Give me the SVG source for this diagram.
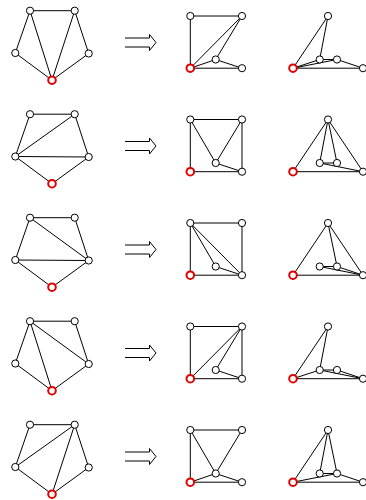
<svg xmlns="http://www.w3.org/2000/svg" width="366" height="500" viewBox="0 0 366 500">
<style>
.e line{stroke:#000;stroke-width:1;fill:none}
.a{stroke:#000;stroke-width:1;fill:none}
.n{fill:#fff;stroke:#000;stroke-width:1}
.r{fill:#fff;stroke:#e00000;stroke-width:2}
</style>
<rect width="366" height="500" fill="#fff"/>
<g id="connectors" class="e">
<!-- row 1 -->
<line x1="30" y1="10.7" x2="74.7" y2="10.7"/><line x1="30" y1="10.7" x2="15.3" y2="53"/><line x1="30" y1="10.7" x2="52" y2="80.2"/><line x1="74.7" y1="10.7" x2="52" y2="80.2"/><line x1="74.7" y1="10.7" x2="88.7" y2="53.5"/><line x1="15.3" y1="53" x2="52" y2="80.2"/><line x1="88.7" y1="53.5" x2="52" y2="80.2"/>
<line x1="190.3" y1="16" x2="242" y2="16"/><line x1="190.3" y1="16" x2="190.3" y2="68.2"/><line x1="190.3" y1="68.2" x2="242" y2="16"/><line x1="190.3" y1="68.2" x2="215.7" y2="59.5"/><line x1="215.7" y1="59.5" x2="242" y2="16"/><line x1="215.7" y1="59.5" x2="242" y2="68.2"/><line x1="190.3" y1="68.2" x2="242" y2="68.2"/>
<line x1="293" y1="68.2" x2="328" y2="16"/><line x1="293" y1="68.2" x2="319.7" y2="59.5"/><line x1="293" y1="68.2" x2="337" y2="59.5"/><line x1="293" y1="68.2" x2="363" y2="68.2"/><line x1="328" y1="16" x2="319.7" y2="59.5"/><line x1="319.7" y1="59.5" x2="337" y2="59.5"/><line x1="337" y1="59.5" x2="363" y2="68.2"/>
<!-- row 2 -->
<line x1="30" y1="114.2" x2="74.7" y2="114.2"/><line x1="30" y1="114.2" x2="15.3" y2="156.5"/><line x1="15.3" y1="156.5" x2="74.7" y2="114.2"/><line x1="15.3" y1="156.5" x2="88.7" y2="157"/><line x1="74.7" y1="114.2" x2="88.7" y2="157"/><line x1="15.3" y1="156.5" x2="52" y2="183.7"/><line x1="88.7" y1="157" x2="52" y2="183.7"/>
<line x1="190.3" y1="119.5" x2="242" y2="119.5"/><line x1="190.3" y1="119.5" x2="190.3" y2="171.7"/><line x1="190.3" y1="119.5" x2="215.7" y2="163"/><line x1="242" y1="119.5" x2="215.7" y2="163"/><line x1="242" y1="119.5" x2="242" y2="171.7"/><line x1="215.7" y1="163" x2="242" y2="171.7"/><line x1="190.3" y1="171.7" x2="242" y2="171.7"/>
<line x1="293" y1="171.7" x2="328" y2="119.5"/><line x1="293" y1="171.7" x2="363" y2="171.7"/><line x1="328" y1="119.5" x2="319.7" y2="163"/><line x1="328" y1="119.5" x2="337" y2="163"/><line x1="328" y1="119.5" x2="363" y2="171.7"/><line x1="319.7" y1="163" x2="337" y2="163"/><line x1="319.7" y1="163" x2="363" y2="171.7"/>
<!-- row 3 -->
<line x1="30" y1="217.7" x2="74.7" y2="217.7"/><line x1="30" y1="217.7" x2="15.3" y2="260"/><line x1="30" y1="217.7" x2="88.7" y2="260.5"/><line x1="15.3" y1="260" x2="88.7" y2="260.5"/><line x1="74.7" y1="217.7" x2="88.7" y2="260.5"/><line x1="15.3" y1="260" x2="52" y2="287.2"/><line x1="88.7" y1="260.5" x2="52" y2="287.2"/>
<line x1="190.3" y1="223" x2="242" y2="223"/><line x1="190.3" y1="223" x2="190.3" y2="275.2"/><line x1="190.3" y1="223" x2="215.7" y2="266.5"/><line x1="190.3" y1="223" x2="242" y2="275.2"/><line x1="242" y1="223" x2="242" y2="275.2"/><line x1="215.7" y1="266.5" x2="242" y2="275.2"/><line x1="190.3" y1="275.2" x2="242" y2="275.2"/>
<line x1="293" y1="275.2" x2="328" y2="223"/><line x1="293" y1="275.2" x2="363" y2="275.2"/><line x1="328" y1="223" x2="337" y2="266.5"/><line x1="328" y1="223" x2="363" y2="275.2"/><line x1="319.7" y1="266.5" x2="337" y2="266.5"/><line x1="319.7" y1="266.5" x2="363" y2="275.2"/><line x1="337" y1="266.5" x2="363" y2="275.2"/>
<!-- row 4 -->
<line x1="30" y1="321.2" x2="74.7" y2="321.2"/><line x1="30" y1="321.2" x2="15.3" y2="363.5"/><line x1="30" y1="321.2" x2="52" y2="390.7"/><line x1="30" y1="321.2" x2="88.7" y2="364"/><line x1="74.7" y1="321.2" x2="88.7" y2="364"/><line x1="15.3" y1="363.5" x2="52" y2="390.7"/><line x1="88.7" y1="364" x2="52" y2="390.7"/>
<line x1="190.3" y1="326.5" x2="242" y2="326.5"/><line x1="190.3" y1="326.5" x2="190.3" y2="378.7"/><line x1="190.3" y1="378.7" x2="242" y2="326.5"/><line x1="242" y1="326.5" x2="215.7" y2="370"/><line x1="242" y1="326.5" x2="242" y2="378.7"/><line x1="215.7" y1="370" x2="242" y2="378.7"/><line x1="190.3" y1="378.7" x2="242" y2="378.7"/>
<line x1="293" y1="378.7" x2="328" y2="326.5"/><line x1="328" y1="326.5" x2="319.7" y2="370"/><line x1="293" y1="378.7" x2="319.7" y2="370"/><line x1="319.7" y1="370" x2="337" y2="370"/><line x1="319.7" y1="370" x2="363" y2="378.7"/><line x1="337" y1="370" x2="363" y2="378.7"/><line x1="293" y1="378.7" x2="363" y2="378.7"/>
<!-- row 5 -->
<line x1="30" y1="424.7" x2="74.7" y2="424.7"/><line x1="30" y1="424.7" x2="15.3" y2="467"/><line x1="15.3" y1="467" x2="74.7" y2="424.7"/><line x1="74.7" y1="424.7" x2="52" y2="494.2"/><line x1="74.7" y1="424.7" x2="88.7" y2="467.5"/><line x1="15.3" y1="467" x2="52" y2="494.2"/><line x1="88.7" y1="467.5" x2="52" y2="494.2"/>
<line x1="190.3" y1="430" x2="242" y2="430"/><line x1="190.3" y1="430" x2="190.3" y2="482.2"/><line x1="190.3" y1="430" x2="215.7" y2="473.5"/><line x1="242" y1="430" x2="215.7" y2="473.5"/><line x1="190.3" y1="482.2" x2="215.7" y2="473.5"/><line x1="215.7" y1="473.5" x2="242" y2="482.2"/><line x1="190.3" y1="482.2" x2="242" y2="482.2"/>
<line x1="293" y1="482.2" x2="328" y2="430"/><line x1="293" y1="482.2" x2="337" y2="473.5"/><line x1="293" y1="482.2" x2="363" y2="482.2"/><line x1="328" y1="430" x2="319.7" y2="473.5"/><line x1="328" y1="430" x2="337" y2="473.5"/><line x1="319.7" y1="473.5" x2="337" y2="473.5"/><line x1="337" y1="473.5" x2="363" y2="482.2"/>
</g>
<g id="arrows">
<path class="a" d="M125,38 H149.5 V34.5 L156,42.5 L149.5,50.5 V47 H125"/>
<path class="a" d="M125,141.5 H149.5 V138 L156,146 L149.5,154 V150.5 H125"/>
<path class="a" d="M125,245 H149.5 V241.5 L156,249.5 L149.5,257.5 V254 H125"/>
<path class="a" d="M125,348.5 H149.5 V345 L156,353 L149.5,361 V357.5 H125"/>
<path class="a" d="M125,452 H149.5 V448.5 L156,456.5 L149.5,464.5 V461 H125"/>
</g>
<!-- row 1 nodes -->
<g id="r1p-tl"><circle class="n" cx="30" cy="10.7" r="3.6"/></g>
<g id="r1p-tr"><circle class="n" cx="74.7" cy="10.7" r="3.6"/></g>
<g id="r1p-l"><circle class="n" cx="15.3" cy="53" r="3.6"/></g>
<g id="r1p-r"><circle class="n" cx="88.7" cy="53.5" r="3.6"/></g>
<g id="r1p-b"><circle class="r" cx="52" cy="80.2" r="3.8"/></g>
<g id="r1s-tl"><circle class="n" cx="190.3" cy="16" r="3.6"/></g>
<g id="r1s-tr"><circle class="n" cx="242" cy="16" r="3.6"/></g>
<g id="r1s-bl"><circle class="r" cx="190.3" cy="68.2" r="3.8"/></g>
<g id="r1s-br"><circle class="n" cx="242" cy="68.2" r="3.6"/></g>
<g id="r1s-in"><circle class="n" cx="215.7" cy="59.5" r="3.6"/></g>
<g id="r1t-a"><circle class="n" cx="328" cy="16" r="3.6"/></g>
<g id="r1t-rd"><circle class="r" cx="293" cy="68.2" r="3.8"/></g>
<g id="r1t-i1"><circle class="n" cx="319.7" cy="59.5" r="3.6"/></g>
<g id="r1t-i2"><circle class="n" cx="337" cy="59.5" r="3.6"/></g>
<g id="r1t-rt"><circle class="n" cx="363" cy="68.2" r="3.6"/></g>
<!-- row 2 nodes -->
<g id="r2p-tl"><circle class="n" cx="30" cy="114.2" r="3.6"/></g>
<g id="r2p-tr"><circle class="n" cx="74.7" cy="114.2" r="3.6"/></g>
<g id="r2p-l"><circle class="n" cx="15.3" cy="156.5" r="3.6"/></g>
<g id="r2p-r"><circle class="n" cx="88.7" cy="157" r="3.6"/></g>
<g id="r2p-b"><circle class="r" cx="52" cy="183.7" r="3.8"/></g>
<g id="r2s-tl"><circle class="n" cx="190.3" cy="119.5" r="3.6"/></g>
<g id="r2s-tr"><circle class="n" cx="242" cy="119.5" r="3.6"/></g>
<g id="r2s-bl"><circle class="r" cx="190.3" cy="171.7" r="3.8"/></g>
<g id="r2s-br"><circle class="n" cx="242" cy="171.7" r="3.6"/></g>
<g id="r2s-in"><circle class="n" cx="215.7" cy="163" r="3.6"/></g>
<g id="r2t-a"><circle class="n" cx="328" cy="119.5" r="3.6"/></g>
<g id="r2t-rd"><circle class="r" cx="293" cy="171.7" r="3.8"/></g>
<g id="r2t-i1"><circle class="n" cx="319.7" cy="163" r="3.6"/></g>
<g id="r2t-i2"><circle class="n" cx="337" cy="163" r="3.6"/></g>
<g id="r2t-rt"><circle class="n" cx="363" cy="171.7" r="3.6"/></g>
<!-- row 3 nodes -->
<g id="r3p-tl"><circle class="n" cx="30" cy="217.7" r="3.6"/></g>
<g id="r3p-tr"><circle class="n" cx="74.7" cy="217.7" r="3.6"/></g>
<g id="r3p-l"><circle class="n" cx="15.3" cy="260" r="3.6"/></g>
<g id="r3p-r"><circle class="n" cx="88.7" cy="260.5" r="3.6"/></g>
<g id="r3p-b"><circle class="r" cx="52" cy="287.2" r="3.8"/></g>
<g id="r3s-tl"><circle class="n" cx="190.3" cy="223" r="3.6"/></g>
<g id="r3s-tr"><circle class="n" cx="242" cy="223" r="3.6"/></g>
<g id="r3s-bl"><circle class="r" cx="190.3" cy="275.2" r="3.8"/></g>
<g id="r3s-br"><circle class="n" cx="242" cy="275.2" r="3.6"/></g>
<g id="r3s-in"><circle class="n" cx="215.7" cy="266.5" r="3.6"/></g>
<g id="r3t-a"><circle class="n" cx="328" cy="223" r="3.6"/></g>
<g id="r3t-rd"><circle class="r" cx="293" cy="275.2" r="3.8"/></g>
<g id="r3t-i1"><circle class="n" cx="319.7" cy="266.5" r="3.6"/></g>
<g id="r3t-i2"><circle class="n" cx="337" cy="266.5" r="3.6"/></g>
<g id="r3t-rt"><circle class="n" cx="363" cy="275.2" r="3.6"/></g>
<!-- row 4 nodes -->
<g id="r4p-tl"><circle class="n" cx="30" cy="321.2" r="3.6"/></g>
<g id="r4p-tr"><circle class="n" cx="74.7" cy="321.2" r="3.6"/></g>
<g id="r4p-l"><circle class="n" cx="15.3" cy="363.5" r="3.6"/></g>
<g id="r4p-r"><circle class="n" cx="88.7" cy="364" r="3.6"/></g>
<g id="r4p-b"><circle class="r" cx="52" cy="390.7" r="3.8"/></g>
<g id="r4s-tl"><circle class="n" cx="190.3" cy="326.5" r="3.6"/></g>
<g id="r4s-tr"><circle class="n" cx="242" cy="326.5" r="3.6"/></g>
<g id="r4s-bl"><circle class="r" cx="190.3" cy="378.7" r="3.8"/></g>
<g id="r4s-br"><circle class="n" cx="242" cy="378.7" r="3.6"/></g>
<g id="r4s-in"><circle class="n" cx="215.7" cy="370" r="3.6"/></g>
<g id="r4t-a"><circle class="n" cx="328" cy="326.5" r="3.6"/></g>
<g id="r4t-rd"><circle class="r" cx="293" cy="378.7" r="3.8"/></g>
<g id="r4t-i1"><circle class="n" cx="319.7" cy="370" r="3.6"/></g>
<g id="r4t-i2"><circle class="n" cx="337" cy="370" r="3.6"/></g>
<g id="r4t-rt"><circle class="n" cx="363" cy="378.7" r="3.6"/></g>
<!-- row 5 nodes -->
<g id="r5p-tl"><circle class="n" cx="30" cy="424.7" r="3.6"/></g>
<g id="r5p-tr"><circle class="n" cx="74.7" cy="424.7" r="3.6"/></g>
<g id="r5p-l"><circle class="n" cx="15.3" cy="467" r="3.6"/></g>
<g id="r5p-r"><circle class="n" cx="88.7" cy="467.5" r="3.6"/></g>
<g id="r5p-b"><circle class="r" cx="52" cy="494.2" r="3.8"/></g>
<g id="r5s-tl"><circle class="n" cx="190.3" cy="430" r="3.6"/></g>
<g id="r5s-tr"><circle class="n" cx="242" cy="430" r="3.6"/></g>
<g id="r5s-bl"><circle class="r" cx="190.3" cy="482.2" r="3.8"/></g>
<g id="r5s-br"><circle class="n" cx="242" cy="482.2" r="3.6"/></g>
<g id="r5s-in"><circle class="n" cx="215.7" cy="473.5" r="3.6"/></g>
<g id="r5t-a"><circle class="n" cx="328" cy="430" r="3.6"/></g>
<g id="r5t-rd"><circle class="r" cx="293" cy="482.2" r="3.8"/></g>
<g id="r5t-i1"><circle class="n" cx="319.7" cy="473.5" r="3.6"/></g>
<g id="r5t-i2"><circle class="n" cx="337" cy="473.5" r="3.6"/></g>
<g id="r5t-rt"><circle class="n" cx="363" cy="482.2" r="3.6"/></g>
</svg>
